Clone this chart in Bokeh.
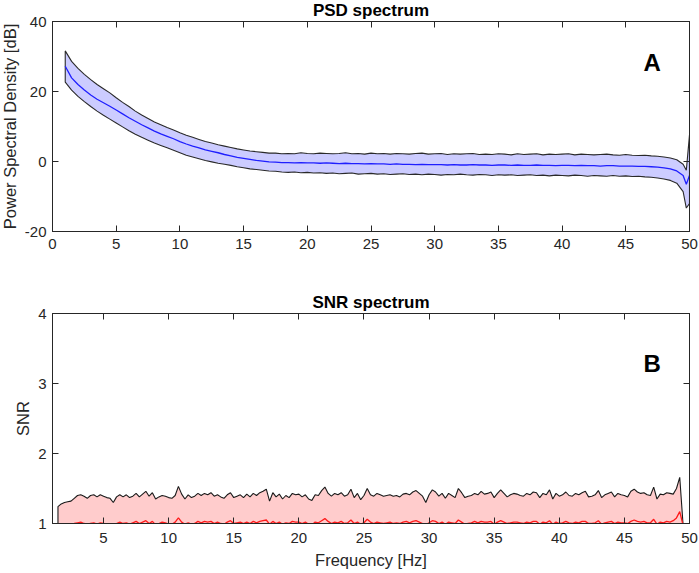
from bokeh.plotting import figure
from bokeh.layouts import column
from bokeh.models import Range1d, FixedTicker, LinearAxis, Label, Title
from bokeh.embed import file_html
from bokeh.resources import INLINE

# ---------------- data: PSD panel ----------------
psd_freq = [
    1.0, 1.5, 2.0, 2.5, 3.0, 3.5, 4.0, 4.5, 5.0, 5.5,
    6.0, 6.5, 7.0, 7.5, 8.0, 8.5, 9.0, 9.5, 10.0, 10.5,
    11.0, 11.5, 12.0, 12.5, 13.0, 13.5, 14.0, 14.5, 15.0, 15.5,
    16.0, 16.5, 17.0, 17.5, 18.0, 18.5, 19.0, 19.5, 20.0, 20.5,
    21.0, 21.5, 22.0, 22.5, 23.0, 23.5, 24.0, 24.5, 25.0, 25.5,
    26.0, 26.5, 27.0, 27.5, 28.0, 28.5, 29.0, 29.5, 30.0, 30.5,
    31.0, 31.5, 32.0, 32.5, 33.0, 33.5, 34.0, 34.5, 35.0, 35.5,
    36.0, 36.5, 37.0, 37.5, 38.0, 38.5, 39.0, 39.5, 40.0, 40.5,
    41.0, 41.5, 42.0, 42.5, 43.0, 43.5, 44.0, 44.5, 45.0, 45.5,
    46.0, 46.5, 47.0, 47.5, 48.0, 48.5, 49.0, 49.5, 49.75, 50.0,
]
psd_mean = [
    27.2, 23.9, 22.0, 20.4, 19.0, 17.8, 16.8, 15.8, 14.7, 13.6,
    12.5, 11.5, 10.5, 9.6, 8.7, 7.9, 7.2, 6.5, 5.7, 5.0,
    4.4, 3.9, 3.3, 2.9, 2.5, 2.0, 1.6, 1.2, 0.9, 0.6,
    0.3, 0.1, -0.1, -0.2, -0.3, -0.3, -0.4, -0.3, -0.4, -0.4,
    -0.5, -0.4, -0.5, -0.6, -0.5, -0.6, -0.6, -0.7, -0.6, -0.7,
    -0.7, -0.8, -0.7, -0.8, -0.8, -0.9, -0.8, -0.9, -0.9, -0.9,
    -1.0, -0.9, -1.0, -1.0, -0.9, -1.0, -1.0, -1.1, -1.0, -1.0,
    -1.1, -1.0, -1.1, -1.1, -1.0, -1.1, -1.1, -1.2, -1.1, -1.1,
    -1.2, -1.1, -1.2, -1.2, -1.3, -1.2, -1.2, -1.3, -1.3, -1.3,
    -1.4, -1.4, -1.5, -1.6, -1.8, -2.1, -2.7, -4.0, -6.5, -4.0,
]
psd_upper = [
    31.6, 28.6, 26.6, 24.9, 23.4, 22.0, 20.8, 19.6, 18.2, 16.9,
    15.7, 14.4, 13.3, 12.3, 11.3, 10.5, 9.7, 9.0, 8.2, 7.5,
    6.9, 6.3, 5.7, 5.3, 4.8, 4.4, 4.0, 3.6, 3.3, 3.0,
    2.8, 2.6, 2.4, 2.4, 2.2, 2.3, 2.2, 2.5, 2.3, 2.2,
    2.4, 2.3, 2.2, 2.3, 2.5, 2.2, 2.3, 2.1, 2.4, 2.2,
    2.3, 2.1, 2.3, 2.2, 2.1, 2.3, 2.4, 2.1, 2.2, 2.3,
    2.0, 2.2, 2.1, 2.2, 2.3, 2.0, 2.1, 2.0, 2.2, 2.1,
    1.9, 2.2, 2.0, 2.1, 2.2, 1.9, 2.1, 2.0, 2.1, 2.2,
    1.9, 2.1, 2.0, 1.9, 2.0, 2.1, 1.9, 1.8, 2.0, 1.8,
    1.7, 1.8, 1.6, 1.5, 1.3, 1.0, 0.5, -0.8, -2.5, 7.6,
]
psd_lower = [
    22.7, 20.4, 18.6, 17.1, 15.7, 14.4, 13.2, 12.1, 11.0, 9.9,
    8.8, 7.8, 6.9, 6.1, 5.3, 4.6, 3.9, 3.2, 2.5, 1.8,
    1.3, 0.8, 0.3, -0.1, -0.5, -0.8, -1.1, -1.5, -1.8, -2.1,
    -2.3, -2.5, -2.7, -2.8, -3.0, -3.1, -3.0, -3.2, -3.1, -3.3,
    -3.2, -3.4, -3.3, -3.5, -3.4, -3.3, -3.6, -3.5, -3.4, -3.6,
    -3.5, -3.7, -3.6, -3.5, -3.7, -3.6, -3.8, -3.6, -3.7, -3.9,
    -3.7, -3.8, -3.6, -3.8, -3.9, -3.7, -3.8, -4.0, -3.8, -3.9,
    -3.8, -4.0, -3.9, -3.8, -4.0, -3.9, -4.1, -3.9, -4.0, -4.1,
    -3.9, -4.0, -4.2, -4.0, -4.1, -4.2, -4.0, -4.2, -4.1, -4.3,
    -4.2, -4.4, -4.5, -4.7, -5.0, -5.4, -6.2, -8.6, -13.3, -12.0,
]
psd_xticks = [0, 5, 10, 15, 20, 25, 30, 35, 40, 45, 50]
psd_yticks = [-20, 0, 20, 40]

# ---------------- data: SNR panel ----------------
snr_freq = [
    1.5, 1.75,
    2.0, 2.25, 2.5, 2.75, 3.0, 3.25, 3.5, 3.75, 4.0, 4.25, 4.5, 4.75,
    5.0, 5.25, 5.5, 5.75, 6.0, 6.25, 6.5, 6.75, 7.0, 7.25, 7.5, 7.75,
    8.0, 8.25, 8.5, 8.75, 9.0, 9.25, 9.5, 9.75, 10.0, 10.25, 10.5, 10.75,
    11.0, 11.25, 11.5, 11.75, 12.0, 12.25, 12.5, 12.75, 13.0, 13.25, 13.5, 13.75,
    14.0, 14.25, 14.5, 14.75, 15.0, 15.25, 15.5, 15.75, 16.0, 16.25, 16.5, 16.75,
    17.0, 17.25, 17.5, 17.75, 18.0, 18.25, 18.5, 18.75, 19.0, 19.25, 19.5, 19.75,
    20.0, 20.25, 20.5, 20.75, 21.0, 21.25, 21.5, 21.75, 22.0, 22.25, 22.5, 22.75,
    23.0, 23.25, 23.5, 23.75, 24.0, 24.25, 24.5, 24.75, 25.0, 25.25, 25.5, 25.75,
    26.0, 26.25, 26.5, 26.75, 27.0, 27.25, 27.5, 27.75, 28.0, 28.25, 28.5, 28.75,
    29.0, 29.25, 29.5, 29.75, 30.0, 30.25, 30.5, 30.75, 31.0, 31.25, 31.5, 31.75,
    32.0, 32.25, 32.5, 32.75, 33.0, 33.25, 33.5, 33.75, 34.0, 34.25, 34.5, 34.75,
    35.0, 35.25, 35.5, 35.75, 36.0, 36.25, 36.5, 36.75, 37.0, 37.25, 37.5, 37.75,
    38.0, 38.25, 38.5, 38.75, 39.0, 39.25, 39.5, 39.75, 40.0, 40.25, 40.5, 40.75,
    41.0, 41.25, 41.5, 41.75, 42.0, 42.25, 42.5, 42.75, 43.0, 43.25, 43.5, 43.75,
    44.0, 44.25, 44.5, 44.75, 45.0, 45.25, 45.5, 45.75, 46.0, 46.25, 46.5, 46.75,
    47.0, 47.25, 47.5, 47.75, 48.0, 48.25, 48.5, 48.75, 49.0, 49.25, 49.5,
]
snr_upper = [
    1.24, 1.28,
    1.30, 1.31, 1.32, 1.36, 1.40, 1.41, 1.39, 1.36, 1.40, 1.41, 1.38, 1.41,
    1.39, 1.37, 1.36, 1.30, 1.38, 1.41, 1.38, 1.41, 1.37, 1.39, 1.43, 1.38,
    1.42, 1.46, 1.39, 1.44, 1.35, 1.38, 1.40, 1.39, 1.37, 1.36, 1.40, 1.53,
    1.42, 1.35, 1.41, 1.37, 1.39, 1.43, 1.40, 1.43, 1.41, 1.44, 1.39, 1.41,
    1.38, 1.36, 1.41, 1.44, 1.37, 1.39, 1.41, 1.37, 1.42, 1.38, 1.43, 1.40,
    1.44, 1.46, 1.49, 1.32, 1.44, 1.38, 1.42, 1.35, 1.40, 1.37, 1.43, 1.41,
    1.42, 1.38, 1.41, 1.35, 1.33, 1.41, 1.40, 1.47, 1.52, 1.43, 1.39, 1.43,
    1.41, 1.44, 1.39, 1.41, 1.49, 1.37, 1.43, 1.34, 1.40, 1.50, 1.41, 1.39,
    1.43, 1.41, 1.39, 1.40, 1.41, 1.39, 1.40, 1.38, 1.42, 1.43, 1.41, 1.45,
    1.47, 1.43, 1.39, 1.30, 1.41, 1.48, 1.45, 1.39, 1.43, 1.36, 1.43, 1.40,
    1.37, 1.50, 1.44, 1.37, 1.39, 1.40, 1.43, 1.41, 1.46, 1.42, 1.43, 1.45,
    1.37, 1.43, 1.48, 1.43, 1.38, 1.41, 1.43, 1.42, 1.40, 1.39, 1.43, 1.41,
    1.45, 1.44, 1.37, 1.43, 1.41, 1.48, 1.35, 1.43, 1.39, 1.41, 1.45, 1.40,
    1.39, 1.43, 1.41, 1.44, 1.46, 1.38, 1.39, 1.41, 1.47, 1.37, 1.41, 1.43,
    1.45, 1.38, 1.43, 1.41, 1.40, 1.38, 1.46, 1.49, 1.45, 1.43, 1.44, 1.41,
    1.40, 1.52, 1.35, 1.42, 1.41, 1.44, 1.43, 1.42, 1.50, 1.66, 1.00,
]
snr_mean = [
    0.93, 0.95,
    0.96, 0.97, 0.98, 1.00, 1.01, 1.02, 1.00, 0.99, 1.00, 1.01, 0.99, 1.01,
    1.00, 0.99, 0.99, 0.97, 1.00, 1.02, 1.00, 1.01, 0.99, 1.01, 1.03, 1.00,
    1.02, 1.04, 1.00, 1.03, 0.98, 1.00, 1.02, 1.01, 0.99, 0.99, 1.02, 1.08,
    1.02, 0.99, 1.01, 0.99, 1.00, 1.03, 1.01, 1.03, 1.02, 1.03, 1.00, 1.02,
    1.00, 0.99, 1.02, 1.04, 1.00, 1.01, 1.02, 1.00, 1.02, 1.00, 1.03, 1.01,
    1.03, 1.04, 1.05, 0.99, 1.03, 1.00, 1.02, 0.99, 1.01, 1.00, 1.03, 1.02,
    1.02, 1.00, 1.02, 0.99, 0.98, 1.02, 1.01, 1.04, 1.07, 1.03, 1.00, 1.02,
    1.01, 1.03, 1.00, 1.01, 1.05, 1.00, 1.02, 0.99, 1.01, 1.06, 1.02, 1.00,
    1.02, 1.01, 1.00, 1.01, 1.02, 1.00, 1.01, 1.00, 1.02, 1.03, 1.01, 1.03,
    1.04, 1.02, 1.00, 0.98, 1.01, 1.04, 1.03, 1.00, 1.02, 0.99, 1.02, 1.01,
    1.00, 1.05, 1.02, 0.99, 1.00, 1.01, 1.03, 1.01, 1.03, 1.02, 1.02, 1.03,
    0.99, 1.02, 1.04, 1.02, 1.00, 1.01, 1.02, 1.02, 1.01, 1.00, 1.02, 1.01,
    1.03, 1.03, 0.99, 1.02, 1.01, 1.04, 0.99, 1.02, 1.00, 1.01, 1.03, 1.01,
    1.00, 1.02, 1.01, 1.03, 1.03, 1.00, 1.00, 1.01, 1.04, 0.99, 1.01, 1.02,
    1.03, 1.00, 1.02, 1.01, 1.01, 1.00, 1.03, 1.05, 1.03, 1.02, 1.03, 1.01,
    1.01, 1.06, 0.99, 1.02, 1.01, 1.03, 1.02, 1.04, 1.08, 1.17, 0.98,
]
snr_xticks = [5, 10, 15, 20, 25, 30, 35, 40, 45, 50]
snr_yticks = [1, 2, 3, 4]
snr_xlim = (1.08, 50)
snr_ylim = (1, 4)

FONT = "Liberation Sans"
INK = "#262626"


def mirror_axis(ticks):
    return LinearAxis(
        ticker=FixedTicker(ticks=ticks),
        major_label_overrides={t: "" for t in ticks},
        major_label_text_font_size="1px", major_label_standoff=0,
        major_tick_in=6, major_tick_out=0, minor_tick_in=0, minor_tick_out=0,
        axis_line_color=INK, major_tick_line_color=INK,
    )


def style(p, xticks, yticks, xlabel, ylabel, title, xstandoff):
    p.grid.visible = False
    p.outline_line_color = INK
    p.xaxis.ticker = FixedTicker(ticks=xticks)
    p.yaxis.ticker = FixedTicker(ticks=yticks)
    p.xaxis.major_label_overrides = {t: str(t) for t in xticks}
    p.yaxis.major_label_overrides = {t: str(t) for t in yticks}
    for ax in (p.xaxis[0], p.yaxis[0]):
        ax.major_tick_in = 6
        ax.major_tick_out = 0
        ax.minor_tick_in = 0
        ax.minor_tick_out = 0
        ax.axis_line_color = INK
        ax.major_tick_line_color = INK
        ax.major_label_text_font = FONT
        ax.major_label_text_font_size = "15px"
        ax.major_label_text_color = INK
        ax.axis_label_text_font = FONT
        ax.axis_label_text_font_style = "normal"
        ax.axis_label_text_font_size = "16.5px"
        ax.axis_label_text_color = INK
    p.xaxis.major_label_standoff = xstandoff
    p.yaxis.major_label_standoff = 6
    p.xaxis.axis_label_standoff = 5
    p.yaxis.axis_label_standoff = 3
    if xlabel:
        p.xaxis.axis_label = xlabel
    if ylabel:
        p.yaxis.axis_label = ylabel
    p.add_layout(mirror_axis(xticks), "above")
    p.add_layout(mirror_axis(yticks), "right")
    p.add_layout(Title(text=title, align="center", standoff=3, text_font=FONT,
                       text_font_style="bold", text_font_size="17px",
                       text_color="black"), "above")


# ---------------- top panel ----------------
p1 = figure(frame_width=637, frame_height=210,
            x_range=Range1d(psd_xticks[0], psd_xticks[-1]),
            y_range=Range1d(psd_yticks[0], psd_yticks[-1]),
            output_backend="svg", toolbar_location=None,
            min_border_left=55, min_border_right=9, min_border_top=30, min_border_bottom=39)
style(p1, psd_xticks, psd_yticks, None, "Power Spectral Density [dB]", "PSD spectrum", 7)
p1.patch(x=psd_freq + psd_freq[::-1], y=psd_upper + psd_lower[::-1],
         fill_color="#CCCCFF", line_color="#2a2a2a", line_width=1.1)
p1.line(psd_freq, psd_mean, line_color="#1f1fff", line_width=1.3)
p1.add_layout(Label(x=47.07, y=28.2, text="A", text_align="center", text_baseline="alphabetic",
                    text_font=FONT, text_font_style="bold", text_font_size="24px",
                    text_color="black"))

# ---------------- bottom panel ----------------
p2 = figure(frame_width=637, frame_height=210, x_range=Range1d(*snr_xlim),
            y_range=Range1d(*snr_ylim),
            output_backend="svg", toolbar_location=None,
            min_border_left=55, min_border_right=9, min_border_top=43, min_border_bottom=48)
style(p2, snr_xticks, snr_yticks, "Frequency [Hz]", "SNR", "SNR spectrum", 9)
floor = snr_ylim[0]
p2.patch(x=[snr_freq[0]] + snr_freq + [snr_freq[-1]],
         y=[floor] + snr_upper + [floor],
         fill_color="#FFCCCC", line_color="#1a1a1a", line_width=1.1)
p2.line(snr_freq, snr_mean, line_color="#ff1a1a", line_width=1.3)
p2.add_layout(Label(x=47.14, y=3.28, text="B", text_align="center", text_baseline="alphabetic",
                    text_font=FONT, text_font_style="bold", text_font_size="24px",
                    text_color="black"))

layout = column(p1, p2, styles={"margin-top": "-9px", "margin-left": "-3px"})

open("out.html", "w").write(file_html(layout, INLINE))
